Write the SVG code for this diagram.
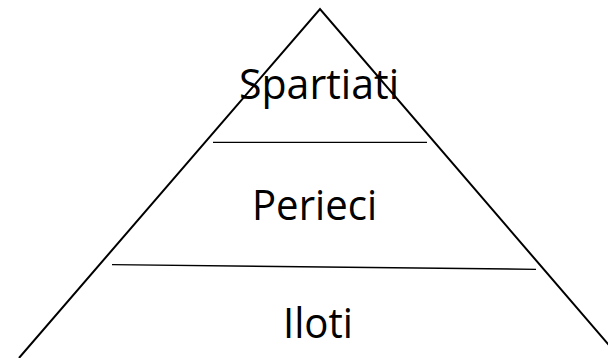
<svg xmlns="http://www.w3.org/2000/svg" width="608" height="358" viewBox="0 0 608 358">
<style>
.ln{stroke:#000;stroke-width:2;fill:none}
.thin{stroke:#000;stroke-width:1.3;fill:none}
.lbl{font-family:"Open Sans","Liberation Sans",sans-serif;font-size:42px;fill:#000}
</style>
<rect width="608" height="358" fill="#fff"/>
<g id="pyramid">
<polyline class="ln" points="19,358 320,9 620,358"/>
</g>
<g id="connectors">
<line class="thin" x1="213" y1="142.3" x2="427" y2="142.3"/>
<line class="thin" x1="112" y1="264.7" x2="536" y2="269.3"/>
</g>
<g id="spartiati"><text class="lbl" x="239" y="99" textLength="160" lengthAdjust="spacingAndGlyphs">Spartiati</text></g>
<g id="perieci"><text class="lbl" x="252" y="220" textLength="125" lengthAdjust="spacingAndGlyphs">Perieci</text></g>
<g id="iloti"><text class="lbl" x="283" y="337.6" textLength="70" lengthAdjust="spacingAndGlyphs">Iloti</text></g>
</svg>
